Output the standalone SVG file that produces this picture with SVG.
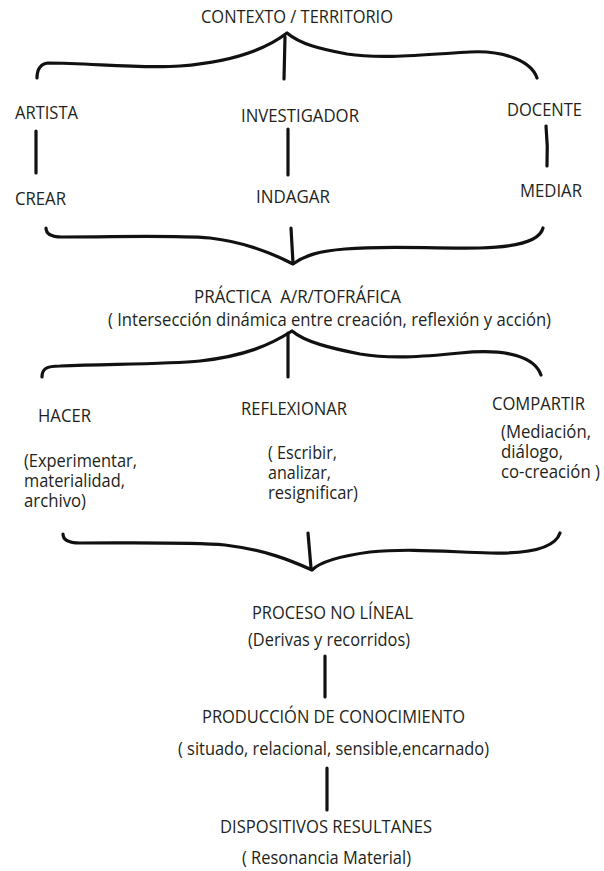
<svg xmlns="http://www.w3.org/2000/svg" width="604" height="871" viewBox="0 0 604 871">
<style>
text{font-family:"Open Sans","Noto Sans",Lato,sans-serif;font-size:17.5px;fill:#231f20;white-space:pre}
.c{fill:none;stroke:#111;stroke-width:3.2;stroke-linecap:round;stroke-linejoin:round}
</style>
<rect width="604" height="871" fill="#fff"/>
<g id="connectors">
<path class="c" d="M37,78 C37,70 40,64 48,63 C90,63 140,69 180,66 C230,62 265,50 287,33 C300,44 320,49 347,54 C380,59 420,55 470,52 C505,50 532,62 537,78"/>
<path class="c" d="M285,37 L284,79"/>
<path class="c" d="M36,131 L36,173"/>
<path class="c" d="M288,129 L288,175"/>
<path class="c" d="M546,126 Q548,146 547,166"/>
<path class="c" d="M46,228 C46,235 52,237 62,237 C120,237 170,235 210,238 C245,242 270,252 293,264 C305,255 320,251 345,249 C390,245 430,249 480,248 C520,247 540,240 543,228"/>
<path class="c" d="M291,228 L293,263"/>
<path class="c" d="M42,377 C42,369 46,366 60,366 C120,364 170,364 200,361 C245,356 270,345 292,331 C305,342 330,348 360,354 C390,359 420,357 460,353 C510,348 535,358 541,375"/>
<path class="c" d="M288,333 L288,377"/>
<path class="c" d="M63,534 C63,540 68,543 80,543 C140,543 190,542 225,545 C265,550 290,560 312,570 C320,562 340,556 370,552 C410,548 450,552 490,553 C530,554 555,548 560,533"/>
<path class="c" d="M308,533 L311,568"/>
<path class="c" d="M325,656 L325,697"/>
<path class="c" d="M327,768 L327,810"/>
</g>
<g id="contexto"><text x="201" y="23" textLength="192" lengthAdjust="spacingAndGlyphs">CONTEXTO / TERRITORIO</text></g>
<g id="artista"><text x="15" y="119" textLength="63" lengthAdjust="spacingAndGlyphs">ARTISTA</text></g>
<g id="investigador"><text x="241" y="122" textLength="118" lengthAdjust="spacingAndGlyphs">INVESTIGADOR</text></g>
<g id="docente"><text x="507" y="116" textLength="75" lengthAdjust="spacingAndGlyphs">DOCENTE</text></g>
<g id="crear"><text x="15" y="205" textLength="51" lengthAdjust="spacingAndGlyphs">CREAR</text></g>
<g id="indagar"><text x="256" y="203" textLength="74" lengthAdjust="spacingAndGlyphs">INDAGAR</text></g>
<g id="mediar"><text x="520" y="197" textLength="62" lengthAdjust="spacingAndGlyphs">MEDIAR</text></g>
<g id="practica">
<text x="194" y="303" textLength="207" lengthAdjust="spacingAndGlyphs">PRÁCTICA  A/R/TOFRÁFICA</text>
<text x="108" y="326" textLength="443" lengthAdjust="spacingAndGlyphs">( Intersección dinámica entre creación, reflexión y acción)</text>
</g>
<g id="hacer">
<text x="38" y="422" textLength="53" lengthAdjust="spacingAndGlyphs">HACER</text>
<text x="24" y="467" textLength="113" lengthAdjust="spacingAndGlyphs">(Experimentar,</text>
<text x="24" y="487" textLength="101" lengthAdjust="spacingAndGlyphs">materialidad,</text>
<text x="24" y="507" textLength="62" lengthAdjust="spacingAndGlyphs">archivo)</text>
</g>
<g id="reflexionar">
<text x="241" y="415" textLength="106" lengthAdjust="spacingAndGlyphs">REFLEXIONAR</text>
<text x="268" y="459" textLength="69" lengthAdjust="spacingAndGlyphs">( Escribir,</text>
<text x="268" y="479" textLength="63" lengthAdjust="spacingAndGlyphs">analizar,</text>
<text x="268" y="499" textLength="90" lengthAdjust="spacingAndGlyphs">resignificar)</text>
</g>
<g id="compartir">
<text x="492" y="410" textLength="93" lengthAdjust="spacingAndGlyphs">COMPARTIR</text>
<text x="501" y="438" textLength="90" lengthAdjust="spacingAndGlyphs">(Mediación,</text>
<text x="501" y="458" textLength="62" lengthAdjust="spacingAndGlyphs">diálogo,</text>
<text x="501" y="478" textLength="99" lengthAdjust="spacingAndGlyphs">co-creación )</text>
</g>
<g id="proceso">
<text x="252" y="619" textLength="161" lengthAdjust="spacingAndGlyphs">PROCESO NO LÍNEAL</text>
<text x="248" y="646" textLength="162" lengthAdjust="spacingAndGlyphs">(Derivas y recorridos)</text>
</g>
<g id="produccion">
<text x="202" y="723" textLength="263" lengthAdjust="spacingAndGlyphs">PRODUCCIÓN DE CONOCIMIENTO</text>
<text x="178" y="755" textLength="311" lengthAdjust="spacingAndGlyphs">( situado, relacional, sensible,encarnado)</text>
</g>
<g id="dispositivos">
<text x="220" y="833" textLength="212" lengthAdjust="spacingAndGlyphs">DISPOSITIVOS RESULTANES</text>
<text x="242" y="864" textLength="169" lengthAdjust="spacingAndGlyphs">( Resonancia Material)</text>
</g>
</svg>
